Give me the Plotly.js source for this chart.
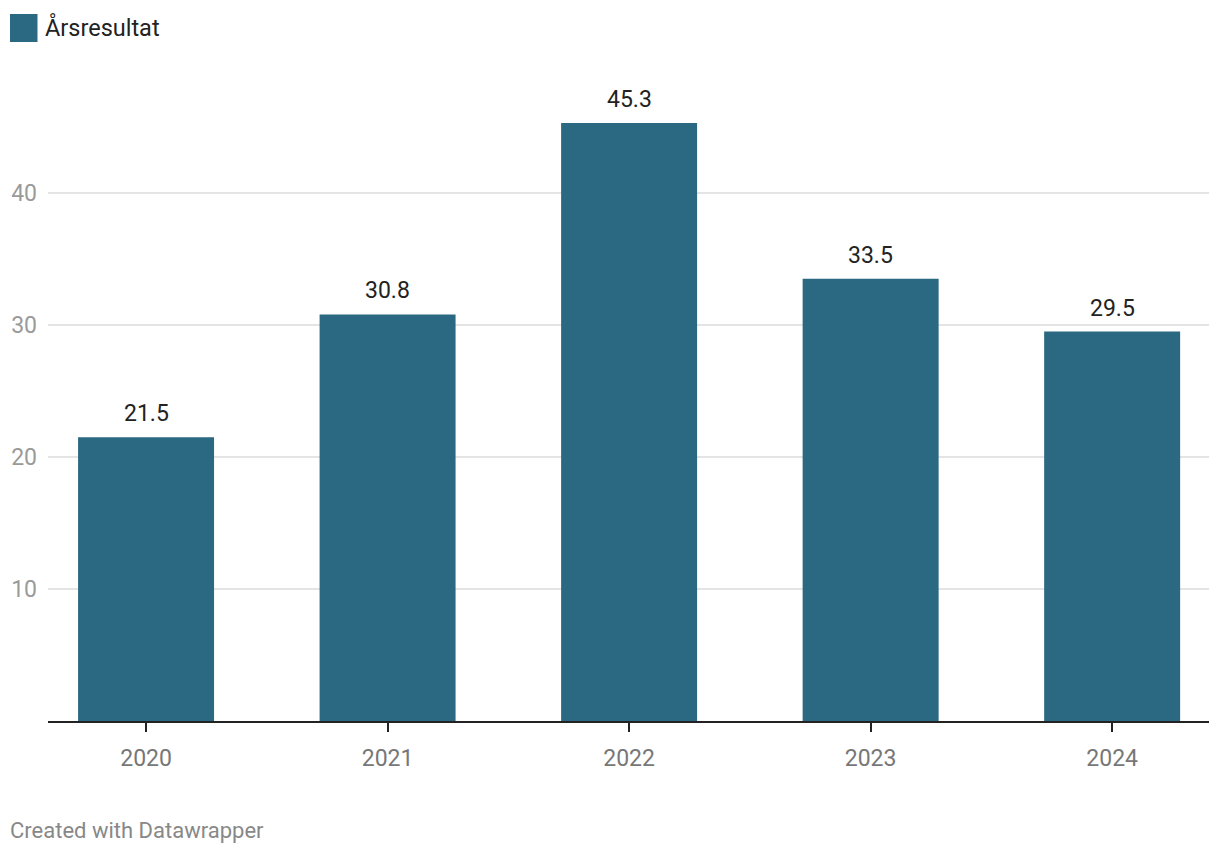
<!DOCTYPE html>
<html>
<head>
<meta charset="utf-8">
<script src="https://cdn.plot.ly/plotly-3.0.1.min.js"></script>
<style>html,body{margin:0;padding:0;background:#fff;}#chart{width:1220px;height:856px;}</style>
</head>
<body>
<div id="chart"></div>
<script>
const years = ['2020', '2021', '2022', '2023', '2024'];
const values = [21.5, 30.8, 45.3, 33.5, 29.5];
const seriesName = 'Årsresultat';
const yTicks = [10, 20, 30, 40];
const barColor = '#2b6881';

const W = 1220, H = 856;
const mL = 48, mR = 11, mT = 80, mB = 135;
const plotW = W - mL - mR, plotH = H - mT - mB;
const px = x => (x - mL) / plotW;
const py = y => (H - mB - y) / plotH;

const font = 'Roboto, "Noto Sans", sans-serif';

const labelAnnotations = years.map((yr, i) => ({
  x: i, y: values[i], xref: 'x', yref: 'y',
  text: values[i].toFixed(1), showarrow: false,
  xanchor: 'center', yanchor: 'bottom', yshift: 8,
  font: {family: font, size: 23, color: '#222'}
}));

const data = [{
  type: 'bar', x: years, y: values, name: seriesName,
  marker: {color: barColor}, width: 0.563, hoverinfo: 'x+y'
}];

const layout = {
  width: W, height: H,
  margin: {l: mL, r: mR, t: mT, b: mB, pad: 0},
  paper_bgcolor: '#fff', plot_bgcolor: '#fff',
  showlegend: false,
  font: {family: font},
  xaxis: {
    type: 'category', range: [-0.406, 4.401], fixedrange: true,
    showline: true, linecolor: '#222', linewidth: 2,
    ticks: 'outside', ticklen: 9, tickwidth: 2, tickcolor: '#222',
    showgrid: false, zeroline: false,
    tickfont: {family: font, size: 23, color: '#777'},
    ticklabelstandoff: 6
  },
  yaxis: {
    range: [0, (H - mB - mT) / 13.2], fixedrange: true,
    tickvals: yTicks, ticktext: yTicks.map(String),
    showline: false, zeroline: false, ticks: '',
    showgrid: true, gridcolor: '#e4e4e4', gridwidth: 1.5,
    tickfont: {family: font, size: 23, color: '#9a9a9a'},
    ticklabelstandoff: 10
  },
  shapes: [{
    type: 'rect', xref: 'paper', yref: 'paper',
    x0: px(10), x1: px(37.5), y0: py(42), y1: py(14),
    fillcolor: barColor, line: {width: 0}
  }],
  annotations: labelAnnotations.concat([
    {xref: 'paper', yref: 'paper', x: px(43), y: py(27), xanchor: 'left', yanchor: 'middle',
     text: seriesName, showarrow: false, font: {family: font, size: 23.5, color: '#222'}},
    {xref: 'paper', yref: 'paper', x: px(8), y: py(830), xanchor: 'left', yanchor: 'middle',
     text: 'Created with Datawrapper', showarrow: false, font: {family: font, size: 22, color: '#888'}}
  ])
};

Plotly.newPlot('chart', data, layout, {displayModeBar: false, staticPlot: true});
</script>
</body>
</html>
